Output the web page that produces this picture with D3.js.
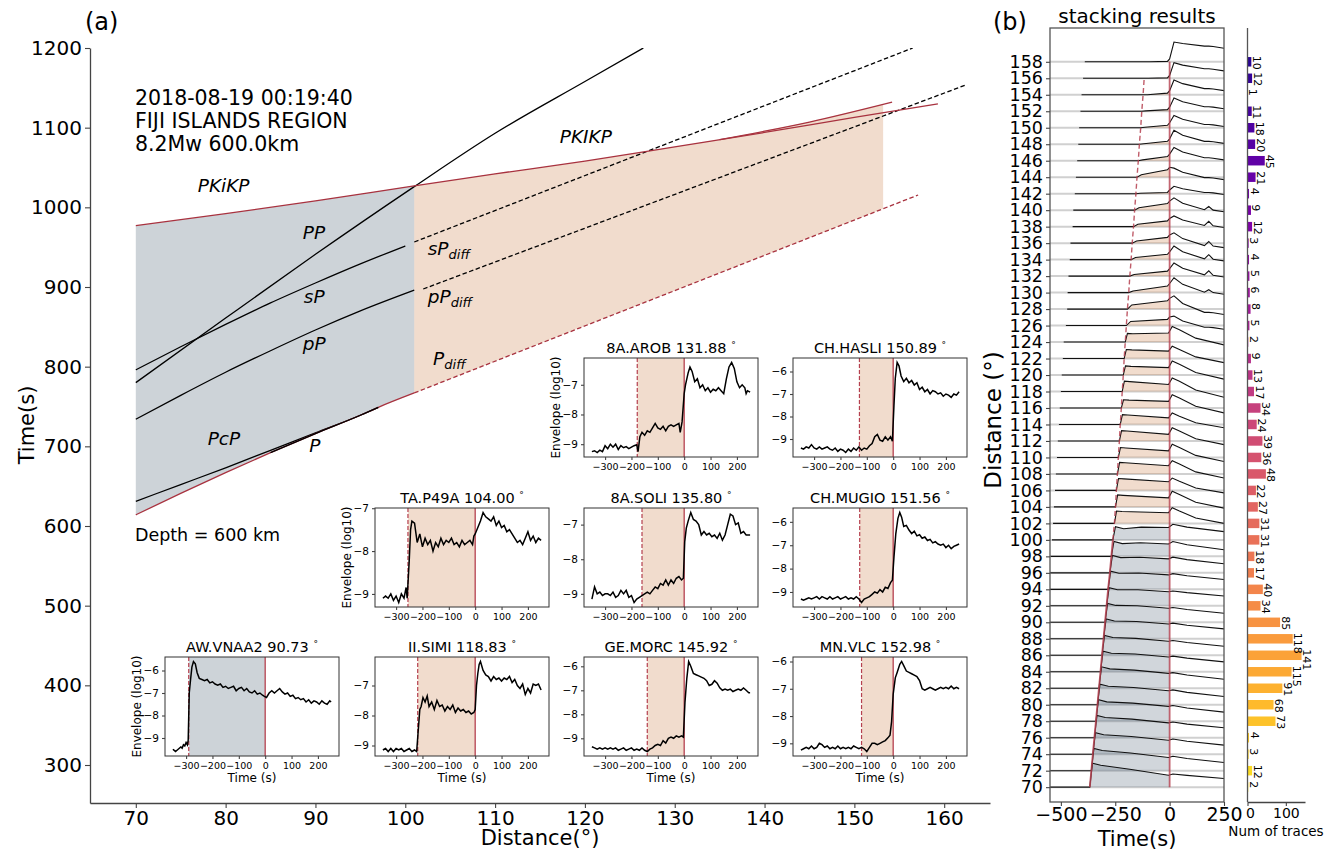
<!DOCTYPE html>
<html>
<head>
<meta charset="utf-8">
<script src="https://cdn.jsdelivr.net/npm/d3@7"></script>
<style>
body { margin: 0; background: #fff; }
text { font-family: "DejaVu Sans", sans-serif; }
</style>
</head>
<body>
<svg id="fig" width="1338" height="852"></svg>
<script>
// ---- panel (a): travel time curves, [distance (deg), time (s)] ----
var phaseP = [[70, 614], [75, 641], [80, 667], [85, 692], [90, 716], [95, 739], [97, 749], [101, 767]]
var phasePdiff = [[101, 767], [157.1, 1015.5]]
var phasePcP = [[70, 631], [75, 652], [80, 673], [85, 695], [90, 717], [95, 739], [97, 749]]
var phasepP = [[70, 734], [75, 764], [80, 793], [85, 820], [90, 846], [95, 870], [101, 896]]
var phasepPdiff = [[102, 897.5], [162.4, 1153.6]]
var phasesP = [[70, 796], [75, 825], [80, 853], [85, 880], [90, 905], [95, 929], [100, 951.5]]
var phasesPdiff = [[101, 956.5], [156.5, 1200]]
var phasePP = [[70, 780], [80, 861], [90, 941], [101, 1026], [110, 1093], [120, 1158], [126.5, 1200]]
var phasePKIKP = [[70, 977], [80, 992], [90, 1008], [101, 1027], [110, 1042], [120, 1058], [130, 1076], [140, 1094], [150, 1113], [159.3, 1130]]
var phasePKPbc = [[135, 1085], [145, 1107], [154.2, 1132]]
var pdiffStart = 101
var pdiffEnd = 153.2

var eventLines = ['2018-08-19 00:19:40', 'FIJI ISLANDS REGION', '8.2Mw 600.0km']
var xTicksA = [70, 80, 90, 100, 110, 120, 130, 140, 150, 160]
var yTicksA = [300, 400, 500, 600, 700, 800, 900, 1000, 1100, 1200]

// ---- insets: envelope (log10) vs time relative to PKIKP ----
var insetNames = ['8A.AROB', 'CH.HASLI', 'TA.P49A', '8A.SOLI', 'CH.MUGIO', 'AW.VNAA2', 'II.SIMI', 'GE.MORC', 'MN.VLC']
var insetDist = [131.88, 150.89, 104.00, 135.80, 151.56, 90.73, 118.83, 145.92, 152.98]
var insetOnset = [-178, -128, -255, -160, -127, -290, -218, -140, -120]
var insetTicksX = [-300, -200, -100, 0, 100, 200]

var traceAROB = [[-350,-9.25],[-340,-9.22],[-330,-9.28],[-320,-9.2],[-310,-9.25],[-300,-9.05],[-290,-9.15],[-280,-9.0],[-270,-9.1],[-260,-9.0],[-250,-9.18],[-240,-9.05],[-230,-9.12],[-220,-9.08],[-210,-9.15],[-200,-9.1],[-190,-9.05],[-180,-9.02],[-175,-9.25],[-168,-8.75],[-160,-8.6],[-150,-8.7],[-140,-8.55],[-130,-8.6],[-120,-8.45],[-110,-8.3],[-100,-8.45],[-90,-8.5],[-80,-8.4],[-70,-8.55],[-60,-8.4],[-50,-8.35],[-40,-8.4],[-30,-8.35],[-20,-8.3],[-15,-8.6],[-8,-8.25],[0,-7.3],[5,-7.0],[15,-6.6],[22,-6.4],[30,-6.55],[40,-6.9],[50,-6.8],[60,-7.1],[70,-7.0],[80,-7.2],[90,-7.1],[100,-7.25],[110,-7.15],[120,-7.2],[130,-7.1],[140,-7.2],[150,-7.3],[160,-6.8],[170,-6.4],[180,-6.25],[190,-6.45],[200,-6.9],[210,-7.1],[220,-7.0],[230,-7.1],[235,-7.3],[240,-7.2],[250,-7.25]]
var traceHASLI = [[-350,-9.4],[-340,-9.45],[-330,-9.35],[-320,-9.4],[-310,-9.25],[-300,-9.4],[-290,-9.45],[-280,-9.35],[-270,-9.45],[-260,-9.4],[-250,-9.35],[-240,-9.45],[-230,-9.5],[-220,-9.4],[-210,-9.55],[-200,-9.45],[-190,-9.5],[-180,-9.6],[-170,-9.45],[-160,-9.55],[-150,-9.4],[-140,-9.5],[-130,-9.35],[-120,-9.5],[-110,-9.4],[-100,-9.45],[-90,-9.3],[-80,-9.2],[-70,-8.9],[-60,-8.8],[-50,-9.05],[-40,-9.1],[-30,-8.9],[-20,-9.05],[-10,-8.9],[-3,-9.1],[3,-7.5],[8,-6.3],[15,-5.6],[22,-5.75],[30,-6.2],[40,-6.45],[50,-6.3],[60,-6.5],[70,-6.4],[80,-6.6],[90,-6.5],[100,-6.8],[110,-6.7],[120,-6.9],[130,-6.8],[140,-7.0],[150,-6.85],[160,-6.9],[170,-7.0],[180,-6.95],[190,-7.1],[200,-7.0],[210,-7.05],[220,-7.15],[230,-7.0],[240,-7.05],[250,-6.9]]
var traceP49A = [[-350,-9.1],[-340,-9.05],[-330,-9.1],[-320,-9.0],[-310,-9.15],[-300,-9.05],[-290,-9.2],[-280,-9.0],[-270,-9.1],[-262,-8.85],[-258,-9.1],[-250,-8.2],[-245,-7.5],[-240,-7.3],[-230,-7.35],[-220,-7.8],[-210,-7.6],[-200,-7.9],[-190,-7.7],[-180,-7.85],[-170,-7.75],[-160,-8.0],[-150,-7.8],[-140,-7.9],[-130,-7.7],[-120,-7.85],[-110,-7.75],[-100,-7.8],[-90,-7.7],[-80,-7.85],[-70,-7.8],[-60,-7.9],[-50,-7.75],[-40,-7.85],[-30,-7.8],[-20,-7.75],[-10,-7.85],[-5,-7.65],[0,-7.6],[10,-7.45],[20,-7.3],[30,-7.1],[40,-7.2],[50,-7.25],[60,-7.3],[70,-7.2],[80,-7.4],[90,-7.3],[100,-7.45],[110,-7.4],[120,-7.55],[130,-7.5],[140,-7.6],[150,-7.7],[160,-7.8],[170,-7.75],[180,-7.85],[190,-7.7],[200,-7.55],[210,-7.75],[220,-7.65],[230,-7.8],[240,-7.7],[250,-7.75]]
var traceSOLI = [[-350,-9.15],[-340,-8.8],[-330,-9.0],[-320,-8.95],[-310,-9.05],[-300,-9.0],[-290,-9.0],[-280,-9.05],[-270,-8.95],[-260,-9.1],[-250,-9.05],[-240,-8.9],[-230,-9.0],[-220,-8.9],[-210,-9.1],[-200,-9.05],[-190,-9.25],[-180,-9.15],[-170,-9.1],[-160,-9.05],[-150,-9.0],[-140,-8.95],[-130,-9.0],[-120,-8.9],[-110,-8.8],[-100,-8.85],[-90,-8.7],[-80,-8.75],[-70,-8.6],[-60,-8.75],[-50,-8.6],[-40,-8.7],[-30,-8.55],[-20,-8.5],[-10,-8.6],[-3,-8.55],[2,-7.5],[8,-7.1],[15,-6.9],[25,-6.65],[35,-6.85],[45,-6.9],[55,-7.0],[65,-7.3],[75,-7.2],[85,-7.3],[95,-7.25],[105,-7.35],[115,-7.3],[125,-7.4],[135,-7.25],[145,-7.45],[155,-7.3],[165,-7.0],[175,-6.7],[185,-6.75],[195,-7.0],[205,-6.95],[215,-7.25],[225,-7.2],[235,-7.3],[250,-7.3]]
var traceMUGIO = [[-350,-9.3],[-340,-9.35],[-330,-9.3],[-320,-9.25],[-310,-9.3],[-300,-9.25],[-290,-9.2],[-280,-9.3],[-270,-9.2],[-260,-9.25],[-250,-9.3],[-240,-9.2],[-230,-9.3],[-220,-9.25],[-210,-9.2],[-200,-9.3],[-190,-9.25],[-180,-9.2],[-170,-9.3],[-160,-9.25],[-150,-9.3],[-140,-9.2],[-130,-9.3],[-120,-9.45],[-110,-9.3],[-100,-9.25],[-90,-9.2],[-80,-9.1],[-70,-9.0],[-60,-9.05],[-50,-8.9],[-40,-9.0],[-30,-8.8],[-20,-8.85],[-10,-8.6],[-3,-8.5],[3,-7.5],[10,-6.5],[18,-5.85],[25,-5.6],[32,-5.8],[40,-6.2],[50,-6.15],[60,-6.35],[70,-6.5],[80,-6.4],[90,-6.6],[100,-6.55],[110,-6.7],[120,-6.65],[130,-6.8],[140,-6.75],[150,-6.9],[160,-6.85],[170,-6.95],[180,-7.0],[190,-6.95],[200,-7.1],[210,-7.0],[220,-7.15],[230,-7.05],[240,-7.0],[250,-6.95]]
var traceVNAA2 = [[-350,-9.5],[-345,-9.55],[-340,-9.6],[-330,-9.5],[-320,-9.4],[-315,-9.45],[-310,-9.3],[-305,-9.35],[-300,-9.2],[-295,-9.3],[-292,-9.1],[-288,-7.0],[-283,-6.4],[-278,-5.85],[-272,-5.6],[-265,-5.7],[-258,-6.1],[-250,-6.35],[-240,-6.4],[-230,-6.45],[-220,-6.4],[-210,-6.55],[-200,-6.5],[-190,-6.6],[-180,-6.65],[-170,-6.6],[-160,-6.75],[-150,-6.7],[-140,-6.8],[-130,-6.75],[-120,-6.7],[-110,-6.9],[-100,-6.8],[-90,-6.75],[-80,-6.9],[-70,-6.8],[-60,-6.95],[-50,-7.0],[-40,-6.9],[-30,-7.05],[-20,-7.0],[-10,-7.1],[-3,-7.15],[5,-7.2],[15,-7.0],[25,-6.9],[35,-7.0],[45,-6.9],[55,-6.8],[65,-6.95],[75,-7.05],[85,-7.0],[95,-7.15],[105,-7.1],[115,-7.25],[125,-7.2],[135,-7.3],[145,-7.25],[155,-7.4],[165,-7.3],[175,-7.45],[185,-7.35],[195,-7.4],[205,-7.5],[215,-7.35],[225,-7.45],[235,-7.5],[245,-7.35],[250,-7.4]]
var traceSIMI = [[-350,-9.15],[-340,-9.1],[-330,-9.2],[-320,-9.1],[-310,-9.2],[-300,-9.1],[-290,-9.15],[-280,-9.1],[-270,-9.2],[-260,-9.15],[-250,-9.1],[-240,-9.2],[-230,-9.15],[-222,-9.2],[-216,-8.5],[-210,-7.8],[-205,-7.7],[-198,-7.4],[-190,-7.55],[-182,-7.35],[-175,-7.7],[-165,-7.55],[-155,-7.8],[-145,-7.5],[-135,-7.7],[-125,-7.65],[-115,-7.85],[-105,-7.7],[-95,-7.8],[-85,-7.65],[-75,-7.9],[-65,-7.75],[-55,-7.85],[-45,-7.8],[-35,-7.9],[-25,-7.85],[-15,-7.95],[-5,-7.9],[0,-7.8],[5,-7.0],[10,-6.6],[15,-6.3],[20,-6.2],[30,-6.5],[40,-6.65],[50,-6.7],[60,-6.85],[70,-6.7],[80,-6.8],[90,-6.75],[100,-6.85],[110,-6.75],[120,-6.8],[130,-6.7],[140,-6.9],[150,-6.8],[160,-7.0],[170,-7.1],[180,-6.95],[190,-7.3],[200,-7.1],[210,-7.25],[220,-6.95],[230,-7.0],[240,-6.95],[250,-7.15]]
var traceMORC = [[-350,-9.35],[-340,-9.4],[-330,-9.45],[-320,-9.4],[-310,-9.45],[-300,-9.4],[-290,-9.45],[-280,-9.4],[-270,-9.45],[-260,-9.4],[-250,-9.5],[-240,-9.45],[-230,-9.4],[-220,-9.5],[-210,-9.45],[-200,-9.4],[-190,-9.5],[-180,-9.45],[-170,-9.5],[-160,-9.4],[-150,-9.5],[-140,-9.55],[-130,-9.45],[-120,-9.4],[-110,-9.3],[-100,-9.25],[-90,-9.3],[-80,-9.1],[-70,-9.2],[-60,-9.0],[-50,-8.95],[-40,-9.0],[-30,-8.9],[-20,-8.95],[-10,-8.9],[-3,-8.95],[3,-7.5],[10,-6.5],[17,-5.8],[25,-6.0],[35,-6.3],[45,-6.35],[55,-6.4],[65,-6.45],[75,-6.5],[85,-6.6],[95,-6.8],[105,-6.75],[115,-6.6],[125,-6.7],[135,-6.9],[145,-7.0],[155,-6.95],[165,-7.0],[175,-6.95],[185,-7.05],[195,-7.0],[205,-6.95],[215,-7.0],[225,-6.9],[235,-7.0],[245,-7.1],[250,-7.1]]
var traceVLC = [[-350,-9.25],[-340,-9.2],[-330,-9.15],[-320,-9.2],[-310,-9.1],[-300,-9.2],[-290,-9.15],[-280,-9.0],[-270,-9.05],[-260,-9.15],[-250,-9.1],[-240,-9.2],[-230,-9.15],[-220,-9.2],[-210,-9.1],[-200,-9.2],[-190,-9.15],[-180,-9.2],[-170,-9.15],[-160,-9.2],[-150,-9.1],[-140,-9.15],[-130,-9.2],[-120,-9.15],[-110,-9.2],[-100,-9.3],[-90,-9.15],[-80,-9.0],[-70,-9.0],[-60,-9.05],[-50,-9.0],[-40,-8.95],[-30,-8.9],[-20,-8.8],[-12,-8.7],[-6,-8.2],[0,-7.2],[8,-6.6],[15,-6.4],[25,-6.1],[32,-6.0],[40,-6.15],[50,-6.35],[60,-6.4],[70,-6.45],[80,-6.5],[90,-6.55],[100,-6.7],[110,-7.0],[120,-7.05],[130,-7.0],[140,-6.95],[150,-7.0],[160,-7.05],[170,-7.0],[180,-6.95],[190,-7.0],[200,-6.95],[210,-7.0],[220,-6.9],[230,-7.0],[240,-6.95],[250,-7.0]]
var insetTraces = [traceAROB, traceHASLI, traceP49A, traceSOLI, traceMUGIO, traceVNAA2, traceSIMI, traceMORC, traceVLC]

// ---- panel (b): stacked traces, one per 2 deg bin ----
var stackDist = [70,72,74,76,78,80,82,84,86,88,90,92,94,96,98,100,102,104,106,108,110,112,114,116,118,120,122,124,126,128,130,132,134,136,138,140,142,144,146,148,150,152,154,156,158]
var stackStart = [-600,-600,-600,-600,-600,-600,-600,-600,-600,-600,-600,-600,-600,-580,-548,-541,-536,-532,-527,-523,-518,-514,-509,-505,-500,-496,-491,-487,-477,-471,-469,-465,-459,-456,-446,-443,-436,-431,-425,-420,-416,-410,-405,-398,-390]
var stackOnset = [-367,-360,-353,-346,-339,-332,-325,-318,-311,-304,-297,-290,-283,-275,-268,-261,-254,-249,-245,-240,-236,-231,-227,-222,-218,-213,-209,-204,-199,-194,-188,-183,-177,-172,-166,-161,-155,-150,-144,-139,-133,-128,-122,-117,-111]
var stackA1 = [2.9,2.7,2.6,2.7,2.6,2.5,2.6,2.5,2.4,2.4,2.3,2.2,2.2,2.1,1.8,1.6,1.5,1.45,1.45,1.4,1.2,1.25,1.2,1.0,1.25,1.1,1.1,1.05,0.5,0.5,0.2,0.2,0.25,0.25,0.3,0.3,0.05,0.3,0.1,0.05,0.05,0.05,0,0,0]
var stackA0 = [1.45,1.6,1.7,1.8,1.8,1.7,1.8,1.8,1.7,1.8,1.7,1.7,1.75,1.7,1.5,1.5,1.3,1.1,1.05,1.0,0.8,0.8,0.8,0.8,0.85,0.9,0.9,1.1,0.75,1.0,0.8,0.6,0.65,0.7,0.7,0.8,0.15,0.9,0.5,0.35,0.3,0.2,0.2,0.05,0.05]
var stackPeak = [1.6,1.75,1.85,1.9,1.9,1.8,1.9,1.9,1.8,1.9,1.8,1.8,1.9,1.9,1.8,1.9,1.9,1.9,1.5,1.6,1.6,1.6,1.4,1.6,1.65,1.7,1.5,1.9,1.15,1.6,1.8,1.6,1.65,1.25,1.3,1.5,0.9,1.1,1.6,1.7,1.5,1.6,1.8,1.9,2.4]
var stackEnd = [1.05,1.0,1.1,1.2,1.1,1.0,1.1,1.2,1.1,1.2,1.1,1.2,1.2,1.1,0.8,1.0,0,-0.15,-0.3,-0.5,-0.5,-0.45,-0.4,-0.6,-0.7,-0.5,-0.5,-0.35,-0.45,-0.65,-0.2,-0.1,-0.15,-0.55,-0.1,-0.2,-0.1,-0.3,0.1,0.1,0.15,0.3,0.5,0.9,1.65]
var stackBump = [0,0,0,0,0,0,0,0,0,0,0,0,0,0,0,0,0,0,0,0,0,0,0,0,0,0,0,0,0,0,0.3,0.5,0.5,0.5,0.5,0.4,0,0,0,0,0,0,0,0,0]
var stackCount = [2,12,3,4,73,68,91,115,141,118,85,34,40,17,18,31,31,27,22,48,36,39,24,34,17,13,9,2,5,8,6,5,4,3,12,9,4,21,45,20,18,11,1,12,10]
var xTicksB = [-500, -250, 0, 250]

var svg = d3.select('#fig')
var blueFill = '#708090'
var orangeFill = '#d08a58'
var redLine = '#a8323f'

function interpAt (pts, t) {
  if (t <= pts[0][0]) return pts[0][1]
  for (var k = 0; k < pts.length - 1; k++) {
    if (t <= pts[k + 1][0]) {
      var f = (t - pts[k][0]) / (pts[k + 1][0] - pts[k][0])
      return pts[k][1] + f * (pts[k + 1][1] - pts[k][1])
    }
  }
  return pts[pts.length - 1][1]
}

function clipPts (pts, t0, t1) {
  var out = [[t0, interpAt(pts, t0)]]
  pts.forEach(function (p) { if (p[0] > t0 && p[0] < t1) out.push(p) })
  out.push([t1, interpAt(pts, t1)])
  return out
}

function styleAxis (g, fs) {
  g.attr('font-family', 'DejaVu Sans').attr('font-size', fs)
  g.selectAll('path.domain').attr('stroke', '#444').attr('stroke-width', 1.3)
  g.selectAll('.tick line').attr('stroke', '#444').attr('stroke-width', 1.1)
  g.selectAll('.tick text').attr('fill', '#000')
}

// ================= panel (a) =================
var xA = d3.scaleLinear().domain([64.9, 165.1]).range([90, 990])
var yA = d3.scaleLinear().domain([252.3, 1200]).range([803, 48])

svg.append('defs').append('clipPath').attr('id', 'clipA')
  .append('rect').attr('x', 90).attr('y', 48).attr('width', 900).attr('height', 755)

var gA = svg.append('g').attr('clip-path', 'url(#clipA)')
var lineA = d3.line().x(function (p) { return xA(p[0]) }).y(function (p) { return yA(p[1]) })
var curveA = d3.line().x(function (p) { return xA(p[0]) }).y(function (p) { return yA(p[1]) }).curve(d3.curveMonotoneX)

// shaded P region and Pdiff region
var blueTop = phasePKIKP.filter(function (p) { return p[0] <= pdiffStart })
var bluePoly = blueTop.concat(phaseP.slice().reverse())
gA.append('path').attr('d', lineA(bluePoly) + 'Z').attr('fill', blueFill).attr('fill-opacity', 0.35)

var orangeTop = phasePKIKP.filter(function (p) { return p[0] >= pdiffStart && p[0] < phasePKPbc[0][0] })
  .concat(phasePKPbc.filter(function (p) { return p[0] < pdiffEnd }))
orangeTop.push([pdiffEnd, interpAt(phasePKPbc, pdiffEnd)])
var orangePoly = orangeTop.concat([[pdiffEnd, interpAt(phasePdiff, pdiffEnd)], [pdiffStart, interpAt(phasePdiff, pdiffStart)]])
gA.append('path').attr('d', lineA(orangePoly) + 'Z').attr('fill', orangeFill).attr('fill-opacity', 0.3)

// black phase curves
;[phasePP, phasesP, phasepP, phasePcP].forEach(function (arr) {
  gA.append('path').attr('d', curveA(arr)).attr('fill', 'none').attr('stroke', '#000').attr('stroke-width', 1.3)
})
;[phasesPdiff, phasepPdiff].forEach(function (arr) {
  gA.append('path').attr('d', lineA(arr)).attr('fill', 'none').attr('stroke', '#000')
    .attr('stroke-width', 1.3).attr('stroke-dasharray', '4.5,2.5')
})
// red boundary curves
gA.append('path').attr('d', curveA(phaseP)).attr('fill', 'none').attr('stroke', redLine).attr('stroke-width', 1.3)
gA.append('path').attr('d', curveA(phaseP.filter(function (p) { return p[0] >= 85 && p[0] <= 97 })))
  .attr('fill', 'none').attr('stroke', '#000').attr('stroke-width', 1.3)
gA.append('path').attr('d', lineA(phasePdiff)).attr('fill', 'none').attr('stroke', redLine)
  .attr('stroke-width', 1.3).attr('stroke-dasharray', '4.5,2.5')
gA.append('path').attr('d', curveA(phasePKIKP)).attr('fill', 'none').attr('stroke', redLine).attr('stroke-width', 1.3)
gA.append('path').attr('d', curveA(phasePKPbc)).attr('fill', 'none').attr('stroke', redLine).attr('stroke-width', 1.3)

// axes
var axYA = svg.append('g').attr('transform', 'translate(90,0)')
  .call(d3.axisLeft(yA).tickValues(yTicksA).tickSize(5).tickSizeOuter(0).tickFormat(d3.format('d')))
styleAxis(axYA, 20)
var axXA = svg.append('g').attr('transform', 'translate(0,803)')
  .call(d3.axisBottom(xA).tickValues(xTicksA).tickSize(5).tickSizeOuter(0))
styleAxis(axXA, 20)

svg.append('text').attr('x', 540).attr('y', 845).attr('text-anchor', 'middle').attr('font-size', 21).text('Distance(°)')
svg.append('text').attr('transform', 'translate(34,425) rotate(-90)').attr('text-anchor', 'middle').attr('font-size', 21).text('Time(s)')
svg.append('text').attr('x', 85).attr('y', 30).attr('font-size', 24).text('(a)')

eventLines.forEach(function (s, k) {
  svg.append('text').attr('x', 135).attr('y', 105 + k * 23).attr('font-size', 20.5).text(s)
})
svg.append('text').attr('x', xA(69.9)).attr('y', yA(581)).attr('font-size', 17.5).text('Depth = 600 km')

// phase names
var phaseLabels = [
  ['PKiKP', '', 76.9, 1019.3], ['PP', '', 88.6, 960.3], ['sP', '', 88.7, 880], ['pP', '', 88.6, 821],
  ['PcP', '', 78.0, 701.7], ['P', '', 89.3, 692.9], ['PKIKP', '', 117.2, 1080.8],
  ['sP', 'diff', 102.5, 940], ['pP', 'diff', 102.5, 880], ['P', 'diff', 103.1, 802]
]
phaseLabels.forEach(function (l) {
  var t = svg.append('text').attr('x', xA(l[2])).attr('y', yA(l[3]))
    .attr('font-size', 18.5).attr('font-style', 'italic').text(l[0])
  if (l[1]) t.append('tspan').attr('font-size', 13).attr('dy', 4).text(l[1])
})

// ---- insets ----
var insetLayout = [[584, 358, 1, 0], [793, 358, 0, 0], [375, 508, 1, 0], [584, 508, 0, 0], [793, 508, 0, 0],
  [165, 657, 1, 1], [375, 657, 0, 1], [584, 657, 0, 1], [793, 657, 0, 1]]

insetNames.forEach(function (name, i) {
  var L = insetLayout[i]
  var w = 174, h = 99
  var pts = insetTraces[i]
  var ext = d3.extent(pts, function (p) { return p[1] })
  var pad = (ext[1] - ext[0]) * 0.05
  var x = d3.scaleLinear().domain([-380, 280]).range([0, w])
  var y = d3.scaleLinear().domain([ext[0] - pad, ext[1] + pad]).range([h, 0])
  var g = svg.append('g').attr('transform', 'translate(' + L[0] + ',' + L[1] + ')')
  var isP = insetDist[i] < pdiffStart

  g.append('rect').attr('width', w).attr('height', h).attr('fill', '#fff')
  g.append('rect').attr('x', x(insetOnset[i])).attr('width', x(0) - x(insetOnset[i])).attr('height', h)
    .attr('fill', isP ? blueFill : orangeFill).attr('fill-opacity', isP ? 0.35 : 0.3)
  g.append('line').attr('x1', x(insetOnset[i])).attr('x2', x(insetOnset[i])).attr('y1', 0).attr('y2', h)
    .attr('stroke', '#b5404f').attr('stroke-width', 1.2).attr('stroke-dasharray', '4,2')
  g.append('line').attr('x1', x(0)).attr('x2', x(0)).attr('y1', 0).attr('y2', h)
    .attr('stroke', '#b5404f').attr('stroke-width', 1.3)
  g.append('path').attr('d', d3.line().x(function (p) { return x(p[0]) }).y(function (p) { return y(p[1]) })(pts))
    .attr('fill', 'none').attr('stroke', '#000').attr('stroke-width', 1.5)
  g.append('rect').attr('width', w).attr('height', h).attr('fill', 'none').attr('stroke', '#333').attr('stroke-width', 1)

  var yt = d3.range(Math.ceil(y.domain()[0]), Math.floor(y.domain()[1]) + 1)
  var ay = g.append('g').call(d3.axisLeft(y).tickValues(yt).tickSize(3).tickSizeOuter(0).tickFormat(d3.format('d')))
  ay.select('path.domain').remove()
  styleAxis(ay, 10.5)
  var ax = g.append('g').attr('transform', 'translate(0,' + h + ')')
    .call(d3.axisBottom(x).tickValues(insetTicksX).tickSize(3).tickSizeOuter(0).tickFormat(d3.format('d')))
  ax.select('path.domain').remove()
  styleAxis(ax, 9.5)

  var title = g.append('text').attr('x', w / 2).attr('y', -5).attr('text-anchor', 'middle').attr('font-size', 14.5)
    .text(name + ' ' + insetDist[i].toFixed(2) + ' ')
  title.append('tspan').attr('font-size', 9).attr('dy', -5).text('°')
  if (L[2]) {
    g.append('text').attr('transform', 'translate(-24,' + (h / 2) + ') rotate(-90)')
      .attr('text-anchor', 'middle').attr('font-size', 12).text('Envelope (log10)')
  }
  if (L[3]) {
    g.append('text').attr('x', w / 2).attr('y', h + 26).attr('text-anchor', 'middle').attr('font-size', 12).text('Time (s)')
  }
})

// ================= panel (b) =================
var xB = d3.scaleLinear().domain([-550, 250]).range([1050, 1224])
var yB = d3.scaleLinear().domain([68.2, 162.1]).range([802, 28])

svg.select('defs').append('clipPath').attr('id', 'clipB')
  .append('rect').attr('x', 1050).attr('y', 28).attr('width', 174).attr('height', 774)
var gB = svg.append('g').attr('clip-path', 'url(#clipB)')

function tracePoints (i) {
  var d = stackDist[i], s = stackStart[i], o = stackOnset[i]
  var a1 = stackA1[i], a0 = stackA0[i], pk = stackPeak[i], e = stackEnd[i], b = stackBump[i]
  if (d <= 100) {
    return [[s, 0], [o, 0], [o + 12, a1], [o + 50, a1 - 0.25], [o * 0.5, (a1 + a0) / 2], [-5, a0],
      [15, pk], [80, (pk + e) / 2 + 0.1], [250, e]]
  }
  if (d <= 124) {
    return [[s, 0], [o, 0], [o + 10, a1], [o + 35, a1 - 0.05], [-5, a0], [12, pk], [45, pk - 0.4],
      [120, (pk + e) / 2 - 0.3], [250, e]]
  }
  return [[s, 0], [o, 0], [o + 20, a1], [-10, a0], [0, a0 + 0.3], [20, pk], [60, (pk + e) / 2 + 0.2],
    [160, e + 0.25], [180, e + 0.25 + b], [200, e + 0.2], [250, e]]
}

stackDist.forEach(function (d) {
  gB.append('line').attr('x1', 1050).attr('x2', 1224).attr('y1', yB(d)).attr('y2', yB(d))
    .attr('stroke', '#d0d0d0').attr('stroke-width', 2)
})
stackDist.forEach(function (d, i) {
  var seg = clipPts(tracePoints(i), stackOnset[i], 0)
  var area = d3.area().x(function (p) { return xB(p[0]) }).y0(yB(d)).y1(function (p) { return yB(d + p[1]) })
  gB.append('path').attr('d', area(seg))
    .attr('fill', d <= 100 ? blueFill : orangeFill).attr('fill-opacity', d <= 100 ? 0.32 : 0.3)
})
stackDist.forEach(function (d, i) {
  var line = d3.line().x(function (p) { return xB(p[0]) }).y(function (p) { return yB(d + p[1]) })
  gB.append('path').attr('d', line(tracePoints(i))).attr('fill', 'none').attr('stroke', '#111').attr('stroke-width', 1.1)
})

var lineB = d3.line().x(function (p) { return xB(p[0]) }).y(function (p) { return yB(p[1]) })
var pLine = stackDist.map(function (d, i) { return [stackOnset[i], d] }).filter(function (p) { return p[1] <= 100 })
var pdLine = stackDist.map(function (d, i) { return [stackOnset[i], d] }).filter(function (p) { return p[1] >= 100 && p[1] <= 156 })
gB.append('path').attr('d', lineB(pLine)).attr('fill', 'none').attr('stroke', '#b5404f').attr('stroke-width', 1.8).attr('stroke-opacity', 0.85)
gB.append('path').attr('d', lineB(pdLine)).attr('fill', 'none').attr('stroke', '#b5404f').attr('stroke-width', 1.4)
  .attr('stroke-dasharray', '5,3').attr('stroke-opacity', 0.85)
gB.append('path').attr('d', lineB([[0, 70], [0, 158]])).attr('fill', 'none').attr('stroke', '#b5404f')
  .attr('stroke-width', 1.8).attr('stroke-opacity', 0.8)

svg.append('rect').attr('x', 1050).attr('y', 28).attr('width', 174).attr('height', 774)
  .attr('fill', 'none').attr('stroke', '#555').attr('stroke-width', 1.3)
var axYB = svg.append('g').attr('transform', 'translate(1050,0)')
  .call(d3.axisLeft(yB).tickValues(stackDist).tickSize(4).tickSizeOuter(0))
axYB.select('path.domain').remove()
styleAxis(axYB, 17.5)
var axXB = svg.append('g').attr('transform', 'translate(0,802)')
  .call(d3.axisBottom(xB).tickValues(xTicksB).tickSize(4).tickPadding(2).tickSizeOuter(0))
axXB.select('path.domain').remove()
styleAxis(axXB, 19)

svg.append('text').attr('x', 1137).attr('y', 846).attr('text-anchor', 'middle').attr('font-size', 21).text('Time(s)')
svg.append('text').attr('transform', 'translate(1001,420) rotate(-90)').attr('text-anchor', 'middle').attr('font-size', 23).text('Distance (°)')
svg.append('text').attr('x', 1137).attr('y', 23).attr('text-anchor', 'middle').attr('font-size', 20).text('stacking results')
svg.append('text').attr('x', 993).attr('y', 30).attr('font-size', 24).text('(b)')

// ---- number of traces per bin ----
var xN = d3.scaleLinear().domain([0, 150]).range([1247.5, 1305])
var barH = yB(0) - yB(1.15)
svg.selectAll('rect.bar').data(stackCount).enter().append('rect').attr('class', 'bar')
  .attr('x', xN(0)).attr('y', function (c, i) { return yB(stackDist[i]) - barH / 2 })
  .attr('width', function (c) { return xN(c) - xN(0) }).attr('height', barH)
  .attr('fill', function (c, i) { return d3.interpolatePlasma(0.05 + 0.9 * (158 - stackDist[i]) / 88) })
svg.selectAll('text.barlab').data(stackCount).enter().append('text').attr('class', 'barlab')
  .attr('transform', function (c, i) { return 'translate(' + (xN(c) + 1.5) + ',' + (yB(stackDist[i]) - 6) + ') rotate(90)' })
  .attr('font-size', 11).text(function (c) { return c })

svg.append('line').attr('x1', 1247.5).attr('x2', 1247.5).attr('y1', 28).attr('y2', 802).attr('stroke', '#555').attr('stroke-width', 1.3)
var axN = svg.append('g').attr('transform', 'translate(0,802)')
  .call(d3.axisBottom(xN).tickValues([0, 100]).tickSize(4).tickPadding(2).tickSizeOuter(0))
styleAxis(axN, 14)
axN.selectAll('.tick text').attr('text-anchor', function (v) { return v === 0 ? 'start' : 'middle' })
  .attr('dx', function (v) { return v === 0 ? -2 : 0 })
svg.append('text').attr('x', 1276).attr('y', 836).attr('text-anchor', 'middle').attr('font-size', 13.5).text('Num of traces')
</script>
</body>
</html>
